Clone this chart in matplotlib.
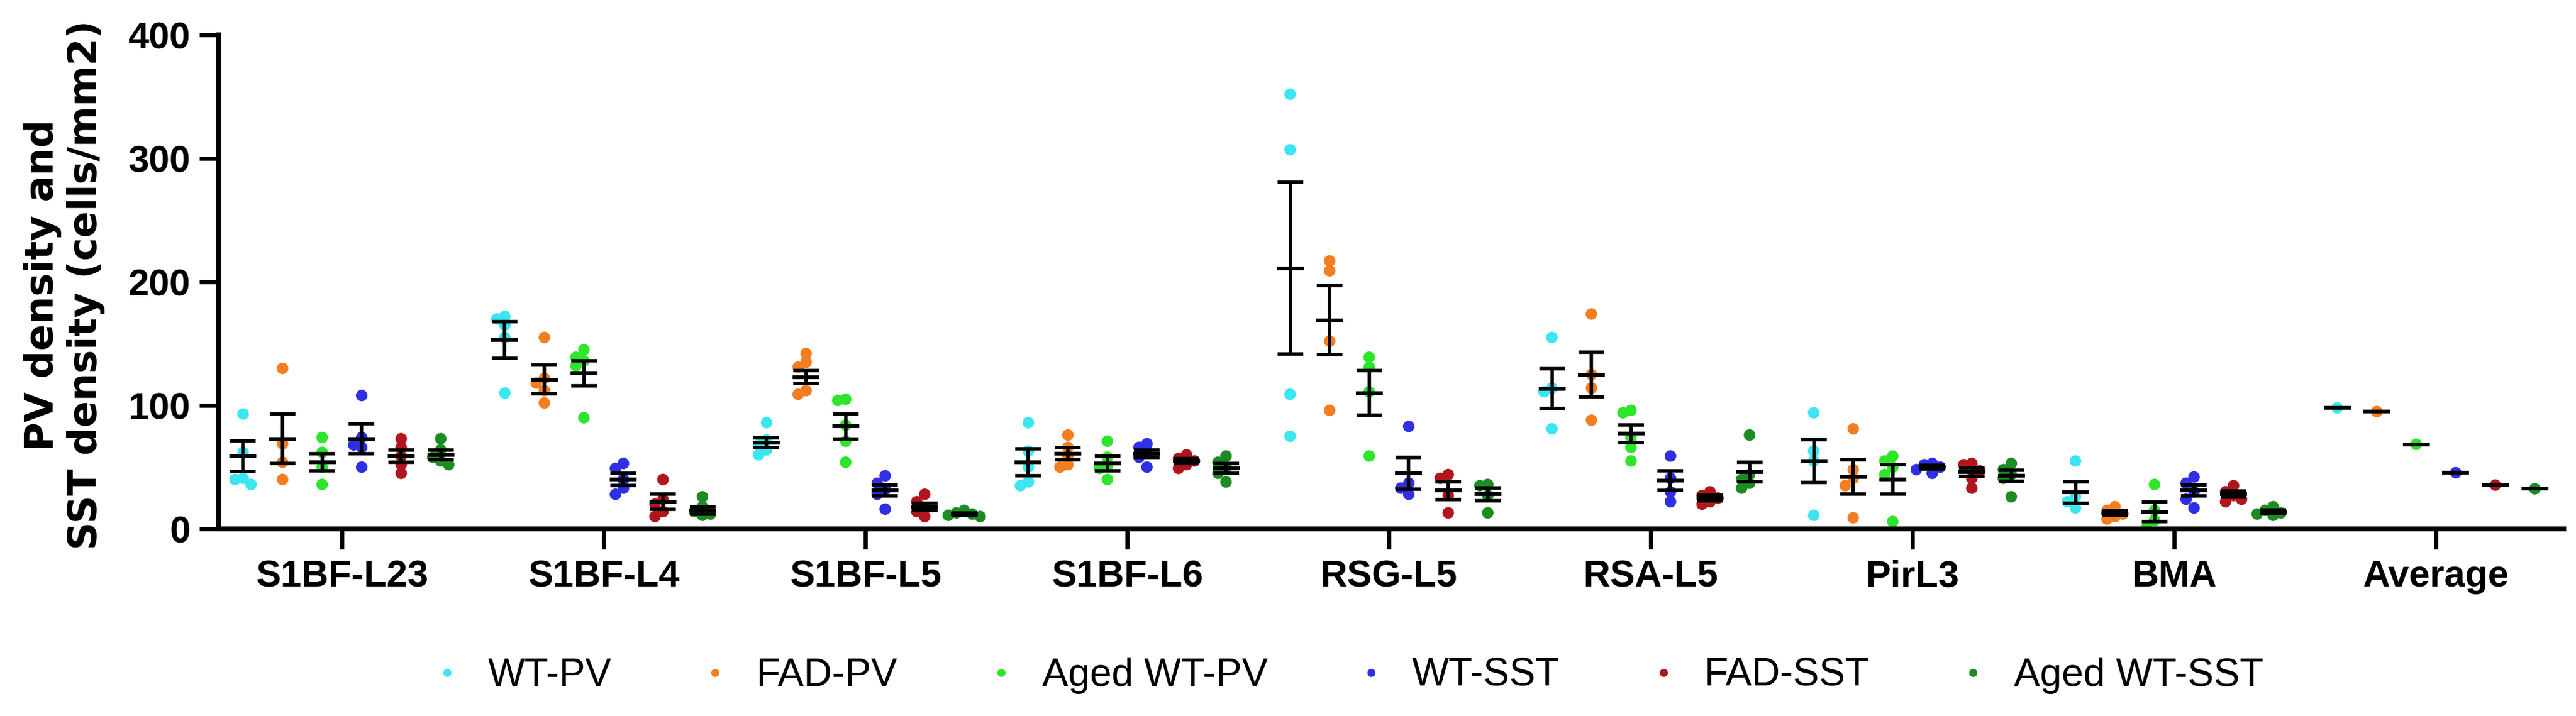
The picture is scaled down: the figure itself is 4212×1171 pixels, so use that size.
import numpy as np
import matplotlib
matplotlib.use("Agg")
import matplotlib.pyplot as plt
from matplotlib.lines import Line2D

plt.rcParams['font.family'] = ['Liberation Sans', 'DejaVu Sans']

categories = ["S1BF-L23", "S1BF-L4", "S1BF-L5", "S1BF-L6", "RSG-L5",
              "RSA-L5", "PirL3", "BMA", "Average"]
series = ["WT-PV", "FAD-PV", "Aged WT-PV", "WT-SST", "FAD-SST", "Aged WT-SST"]
colors = ["#3BE6F0", "#F37E22", "#2DE62A", "#2F2FE3", "#B0161C", "#1C8C22"]

# individual points per series, one list per category
wt_pv = [[93, 62, 40, 36, 41], [172, 170, 165, 155, 110], [86, 72, 68, 64, 60],
         [86, 63, 50, 38, 35], [352, 307, 109, 75], [155, 114, 111, 81],
         [94, 63, 55, 11], [55, 26, 22, 17], [98]]
fad_pv = [[130, 69, 54, 40], [155, 122, 118, 112, 102], [142, 135, 131, 112, 109],
          [76, 66, 59, 52, 50], [217, 209, 152, 96], [174, 125, 114, 88],
          [81, 48, 41, 35, 9], [18, 15, 12, 10, 8], [95]]
aged_wt_pv = [[74, 62, 50, 36], [145, 139, 136, 132, 90], [105, 104, 84, 71, 54],
              [71, 58, 51, 49, 40], [139, 131, 111, 59], [96, 94, 74, 66, 55],
              [59, 55, 50, 44, 6], [36, 15, 7, 1], [68.5]]
wt_sst = [[108, 74, 68, 66, 50], [53, 49, 40, 33, 28], [43, 37, 32, 28, 16],
          [69, 66, 62, 58, 50], [83, 37, 33, 28], [59, 41, 30, 22],
          [53, 52, 50, 48, 45], [42, 37, 30, 24, 17], [45.5]]
fad_sst = [[73, 66, 59, 52, 45], [40, 24, 20, 14, 10], [28, 22, 17, 14, 10],
           [60, 57, 55, 52, 49], [44, 41, 27, 13], [30, 27, 25, 22, 20],
           [53, 52, 47, 41, 33], [35, 30, 27, 24, 22], [35.5]]
aged_wt_sst = [[73, 64, 58, 55, 52], [26, 18, 14, 12, 11], [15, 13, 12, 11, 10],
               [59, 54, 50, 45, 38], [36, 35, 27, 13], [76, 44, 40, 37, 33],
               [53, 48, 44, 41, 26], [18, 15, 13, 11, 12], [32.5]]

# means and SEM
means = [
    [59, 153, 70, 54, 211, 113.5, 55, 29.5, 98],
    [73, 121, 123, 61, 169, 125, 42, 13, 95],
    [54, 126, 83, 53, 110, 77, 40, 14, 68.5],
    [73, 40, 31, 61, 45, 39, 50, 31, 45.5],
    [59, 22, 18, 55, 31, 25, 46, 28, 35.5],
    [60, 15, 12, 49, 28, 46, 43, 14, 32.5],
]
sems = [
    [12.5, 15, 4, 11, 69.5, 16, 17.5, 8.5, 0],
    [20, 11.5, 5, 5, 28, 18, 14, 2, 0],
    [7, 10, 10, 6, 18, 7, 12, 8, 0],
    [12, 5, 4.5, 3, 13, 8, 1.5, 4.5, 0],
    [5, 6, 3, 2, 7, 2, 3.5, 2.5, 0],
    [4, 3, 1, 4, 5, 8, 4.5, 1.5, 0],
]

all_points = [wt_pv, fad_pv, aged_wt_pv, wt_sst, fad_sst, aged_wt_sst]

W, H = 4212, 1171
fig = plt.figure(figsize=(W / 100, H / 100), dpi=100)
ax_l, ax_r, ax_b, ax_t = 357, 4192, 865, 57
ax = fig.add_axes([ax_l / W, 1 - ax_b / H, (ax_r - ax_l) / W, (ax_b - ax_t) / H])
xlim = (-0.472, 8.488)
ylim = (0, 400)
ax.set_xlim(*xlim)
ax.set_ylim(*ylim)

px_per_x = (ax_r - ax_l) / (xlim[1] - xlim[0])
px_per_y = (ax_b - ax_t) / (ylim[1] - ylim[0])

step = 0.151
coll_d = 13.0  # px, allowed overlap between neighbouring dots

def swarm(vals):
    order = np.argsort(vals)[::-1]
    placed = []
    offs = np.zeros(len(vals))
    dx = 13.0
    cands = [0, -dx, dx, -2 * dx, 2 * dx]
    for i in order:
        y = vals[i] * px_per_y
        best = cands[-1]
        for c in cands:
            if all(np.hypot(c - px, y - py) >= coll_d for (px, py) in placed):
                best = c
                break
        placed.append((best, y))
        offs[i] = best / px_per_x
    return offs

half = 22 / px_per_x
for j, pts in enumerate(all_points):
    for i, vals in enumerate(pts):
        xc = i + (j - 2.5) * step
        vals = np.asarray(vals, dtype=float)
        offs = swarm(vals)
        ax.scatter(xc + offs, vals, s=185, color=colors[j], edgecolors='none',
                   zorder=2)
        m = means[j][i]
        e = sems[j][i]
        ax.hlines(m, xc - half, xc + half, color='black', lw=4.5, zorder=4)
        if e > 0:
            ax.errorbar([xc], [m], yerr=[e], fmt='none', ecolor='black',
                        elinewidth=4, capsize=15, capthick=4, zorder=4)

for s in ['top', 'right']:
    ax.spines[s].set_visible(False)
for s in ['left', 'bottom']:
    ax.spines[s].set_linewidth(5.8)
    ax.spines[s].set_color('black')

ax.set_yticks([0, 100, 200, 300, 400])
ax.set_xticks(range(len(categories)))
ax.set_xticklabels(categories)
ax.tick_params(axis='y', length=22, width=4.8, pad=11, labelsize=44)
ax.tick_params(axis='x', length=24, width=4.8, pad=12, labelsize=44)
for lab in ax.get_xticklabels() + ax.get_yticklabels():
    lab.set_fontweight('bold')

fig.text(105 / W, 1 - 466 / H, "PV density and\nSST density (cells/mm2)",
         rotation=90, ha='center', va='center', fontsize=46,
         family=['DejaVu Sans'], fontweight='bold', linespacing=1.15)

handles = [Line2D([0], [0], marker='o', linestyle='none', markersize=9.5,
                  markerfacecolor=c, markeredgecolor='none') for c in colors]
fig.legend(handles, series, loc='center', bbox_to_anchor=(2200 / W, 1 - 1105 / H),
           ncol=6, frameon=False, fontsize=46, handlelength=1.0,
           handletextpad=0.55, columnspacing=2.15)

fig.savefig("out.png", dpi=100, facecolor='white')
